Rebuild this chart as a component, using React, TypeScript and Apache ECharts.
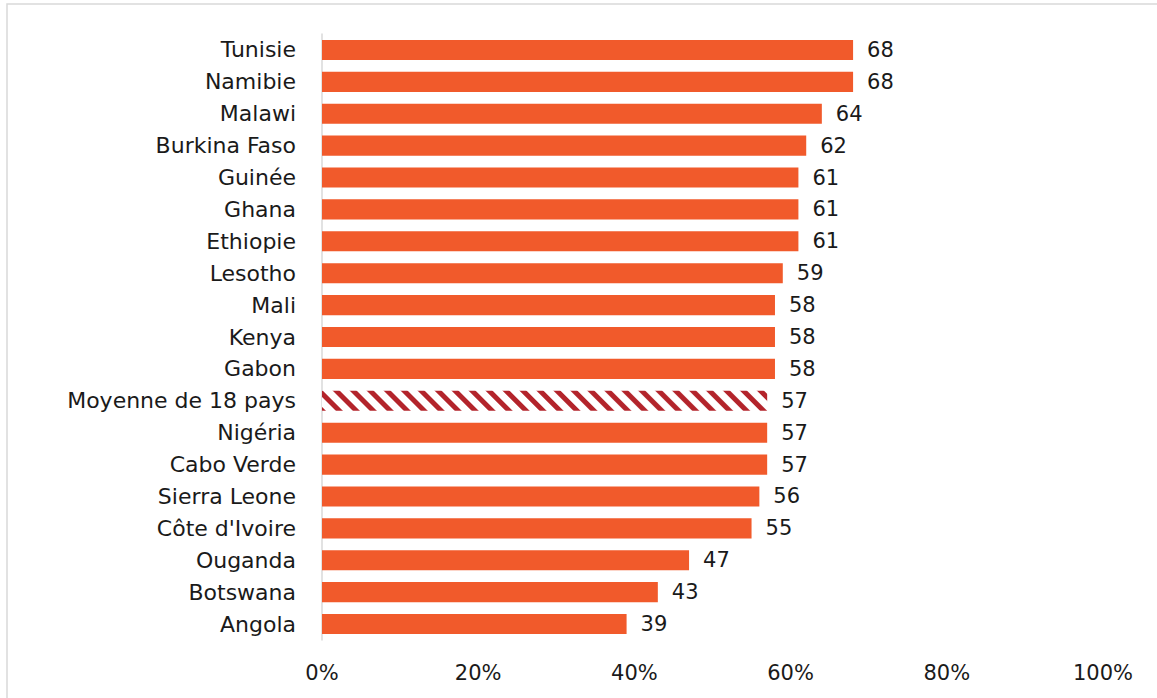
import React, { useEffect, useRef } from "react";
import * as echarts from "echarts";

const categories = [
  "Tunisie", "Namibie", "Malawi", "Burkina Faso", "Guinée", "Ghana", "Ethiopie",
  "Lesotho", "Mali", "Kenya", "Gabon", "Moyenne de 18 pays", "Nigéria", "Cabo Verde",
  "Sierra Leone", "Côte d'Ivoire", "Ouganda", "Botswana", "Angola",
];
const values = [68, 68, 64, 62, 61, 61, 61, 59, 58, 58, 58, 57, 57, 57, 56, 55, 47, 43, 39];
const averageLabel = "Moyenne de 18 pays";
const xTicks = [0, 20, 40, 60, 80, 100];

const FONT = "'DejaVu Sans', sans-serif";

export default function App() {
  const ref = useRef<HTMLDivElement>(null);
  useEffect(() => {
    const chart = echarts.init(ref.current!, undefined, { renderer: "svg" });
    const data = values.map((v, i) => {
      if (categories[i] === averageLabel) {
        return {
          value: v,
          itemStyle: {
            color: "#ffffff",
            decal: {
              symbol: "rect",
              color: "#B3242B",
              dashArrayX: [1, 0],
              dashArrayY: [5, 6.8],
              rotation: Math.PI / 4,
              symbolSize: 1,
            },
          },
        };
      }
      return v;
    });
    chart.setOption({
      animation: false,
      aria: { enabled: false },
      graphic: [
        {
          type: "rect",
          shape: { x: 7, y: 4, width: 1165, height: 710 },
          style: { fill: "none", stroke: "#d9d9d9", lineWidth: 1.5 },
          silent: true,
        },
      ],
      grid: { left: 322, right: 54, top: 34, height: 606, containLabel: false },
      xAxis: {
        type: "value",
        min: 0,
        max: 100,
        interval: 20,
        splitLine: { show: false },
        axisLine: { show: false },
        axisTick: { show: false },
        axisLabel: {
          formatter: (v: number) => (xTicks.includes(v) ? v + "%" : ""),
          fontFamily: FONT,
          fontSize: 21,
          color: "#1a1a1a",
          margin: 22,
        },
      },
      yAxis: {
        type: "category",
        data: categories,
        inverse: true,
        axisLine: { show: true, lineStyle: { color: "#d9d9d9", width: 1.5 } },
        axisTick: { show: false },
        axisLabel: {
          fontFamily: FONT,
          fontSize: 22,
          color: "#1a1a1a",
          margin: 26,
        },
      },
      series: [
        {
          type: "bar",
          data,
          barCategoryGap: "37%",
          itemStyle: { color: "#F15A2B" },
          label: {
            show: true,
            position: "right",
            distance: 14,
            fontFamily: FONT,
            fontSize: 21,
            color: "#1a1a1a",
          },
        },
      ],
    });
    return () => chart.dispose();
  }, []);
  return (
    <div
      ref={ref}
      style={{ position: "fixed", left: 0, top: 0, width: 1157, height: 698, background: "#fff" }}
    />
  );
}
